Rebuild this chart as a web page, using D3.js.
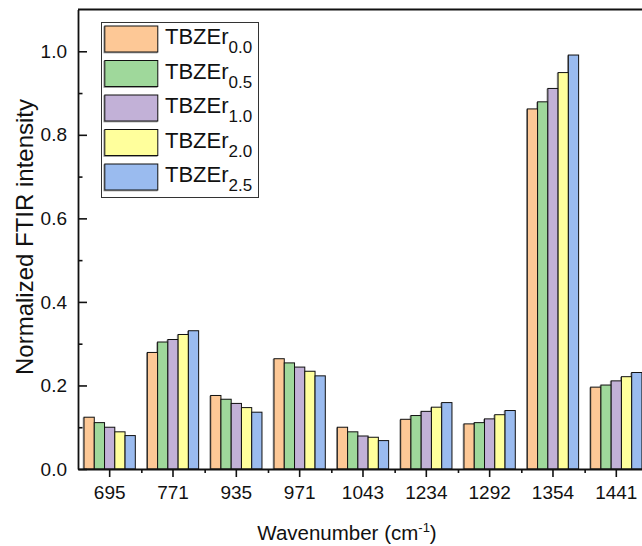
<!DOCTYPE html>
<html>
<head>
<meta charset="utf-8">
<script src="https://cdn.jsdelivr.net/npm/d3@7"></script>
<style>
  html, body { margin: 0; padding: 0; background: #fff; }
  svg { display: block; font-family: "Liberation Sans", Arial, sans-serif; }
</style>
</head>
<body>
<svg id="chart" width="642" height="546"></svg>
<script>
// Wavenumber bands (cm-1)
const categories = ["695", "771", "935", "971", "1043", "1234", "1292", "1354", "1441"];

// Sample series: TBZEr with Er content as subscript
const seriesName = "TBZEr";
const seriesSub = ["0.0", "0.5", "1.0", "2.0", "2.5"];
const seriesColors = ["#fdc896", "#9fd89b", "#c2b1d7", "#ffff9c", "#9abbef"];

// Normalized FTIR intensity, one array per sample, in category order
const tbzer00 = [0.124, 0.279, 0.176, 0.264, 0.100, 0.119, 0.108, 0.862, 0.196];
const tbzer05 = [0.111, 0.304, 0.167, 0.254, 0.089, 0.128, 0.111, 0.879, 0.201];
const tbzer10 = [0.100, 0.310, 0.157, 0.244, 0.079, 0.138, 0.120, 0.911, 0.211];
const tbzer20 = [0.089, 0.322, 0.147, 0.234, 0.076, 0.148, 0.130, 0.949, 0.221];
const tbzer25 = [0.080, 0.331, 0.136, 0.223, 0.068, 0.159, 0.140, 0.991, 0.231];
const seriesValues = [tbzer00, tbzer05, tbzer10, tbzer20, tbzer25];

const yTicks = [0.0, 0.2, 0.4, 0.6, 0.8, 1.0];
const yMinorTicks = [0.1, 0.3, 0.5, 0.7, 0.9];

const svg = d3.select("#chart");

const plotLeft = 78, plotTop = 9.5, plotBottom = 469;
const step = 63.33;
const plotRight = plotLeft + step * categories.length;

const x0 = d3.scaleBand()
  .domain(categories)
  .range([plotLeft, plotRight])
  .paddingInner(0.19)
  .paddingOuter(0.095);

const x1 = d3.scaleBand()
  .domain(d3.range(seriesSub.length))
  .range([0, x0.bandwidth()]);

const y = d3.scaleLinear().domain([0, 1.1]).range([plotBottom, plotTop]);

// Bars
const groups = svg.append("g")
  .selectAll("g")
  .data(categories)
  .join("g")
  .attr("transform", c => `translate(${x0(c)},0)`);

const barData = (c, ci) => seriesValues.map((vals, si) => ({ si, v: vals[ci] }));

// soft shadow beneath each bar outline
groups.selectAll("rect.shadow")
  .data((c, ci) => barData(c, ci))
  .join("rect")
  .attr("class", "shadow")
  .attr("x", d => x1(d.si) - 0.8)
  .attr("y", d => y(d.v) + 0.8)
  .attr("width", x1.bandwidth())
  .attr("height", d => plotBottom - y(d.v) - 0.8)
  .attr("fill", "none")
  .attr("stroke", "#999")
  .attr("stroke-width", 1);

groups.selectAll("rect.bar")
  .data((c, ci) => barData(c, ci))
  .join("rect")
  .attr("class", "bar")
  .attr("x", d => x1(d.si))
  .attr("y", d => y(d.v))
  .attr("width", x1.bandwidth())
  .attr("height", d => plotBottom - y(d.v))
  .attr("fill", d => seriesColors[d.si])
  .attr("stroke", "#111")
  .attr("stroke-width", 1);

// Y axis: ticks point into the plot
const yAxis = svg.append("g")
  .attr("transform", `translate(${plotLeft},0)`)
  .call(d3.axisLeft(y).tickValues(yTicks).tickFormat(d3.format(".1f"))
    .tickSizeInner(-9).tickSizeOuter(0).tickPadding(11));
yAxis.append("g")
  .call(d3.axisLeft(y).tickValues(yMinorTicks).tickFormat("")
    .tickSizeInner(-4.5).tickSizeOuter(0))
  .select(".domain").remove();

// X axis: ticks point outward, minor ticks between bands
const xAxis = svg.append("g")
  .attr("transform", `translate(0,${plotBottom})`)
  .call(d3.axisBottom(x0).tickSizeInner(8).tickSizeOuter(0).tickPadding(9));

const boundaries = categories.slice(1).map((c, i) =>
  (x0(categories[i]) + x0(c)) / 2 + x0.bandwidth() / 2);
const xLin = d3.scaleLinear().domain([plotLeft, plotRight]).range([plotLeft, plotRight]);
xAxis.append("g")
  .call(d3.axisBottom(xLin).tickValues(boundaries).tickFormat("")
    .tickSizeInner(4).tickSizeOuter(0))
  .select(".domain").remove();

svg.selectAll(".domain").attr("stroke", "#111").attr("stroke-width", 1.8);
svg.selectAll(".tick line").attr("stroke", "#111").attr("stroke-width", 1.6);
svg.selectAll(".tick text")
  .attr("font-size", 19)
  .attr("font-family", "Liberation Sans, Arial, sans-serif")
  .attr("fill", "#111");

// Top frame line
svg.append("line")
  .attr("x1", plotLeft).attr("x2", plotRight)
  .attr("y1", plotTop).attr("y2", plotTop)
  .attr("stroke", "#111").attr("stroke-width", 1.8);

// Axis titles
svg.append("text")
  .attr("transform", `translate(33,237) rotate(-90)`)
  .attr("text-anchor", "middle")
  .attr("font-size", 24)
  .attr("fill", "#111")
  .text("Normalized FTIR intensity");

const xTitle = svg.append("text")
  .attr("x", 347).attr("y", 540)
  .attr("text-anchor", "middle")
  .attr("font-size", 20.5)
  .attr("fill", "#111");
xTitle.append("tspan").text("Wavenumber (cm");
xTitle.append("tspan").attr("font-size", 13).attr("dy", -8).text("-1");
xTitle.append("tspan").attr("dy", 8).text(")");

// Legend
const legend = svg.append("g");
legend.append("rect")
  .attr("x", 101.5).attr("y", 22.5)
  .attr("width", 157).attr("height", 175)
  .attr("fill", "#fff")
  .attr("stroke", "#333").attr("stroke-width", 1);

const rowY = d3.scaleLinear().domain([0, 1]).range([26, 60.5]);
const rows = legend.selectAll("g.row")
  .data(seriesSub)
  .join("g")
  .attr("class", "row")
  .attr("transform", (d, i) => `translate(0,${rowY(i)})`);

rows.append("rect")
  .attr("x", 104).attr("y", 0.8)
  .attr("width", 53).attr("height", 26)
  .attr("fill", "none").attr("stroke", "#888").attr("stroke-width", 1);
rows.append("rect")
  .attr("x", 104.8).attr("y", 0)
  .attr("width", 53).attr("height", 26)
  .attr("fill", (d, i) => seriesColors[i])
  .attr("stroke", "#111").attr("stroke-width", 1);

const label = rows.append("text")
  .attr("x", 165).attr("y", 18)
  .attr("font-size", 22)
  .attr("fill", "#111");
label.append("tspan").text(seriesName);
label.append("tspan").attr("font-size", 17).attr("dy", 9).text(d => d);
</script>
</body>
</html>
